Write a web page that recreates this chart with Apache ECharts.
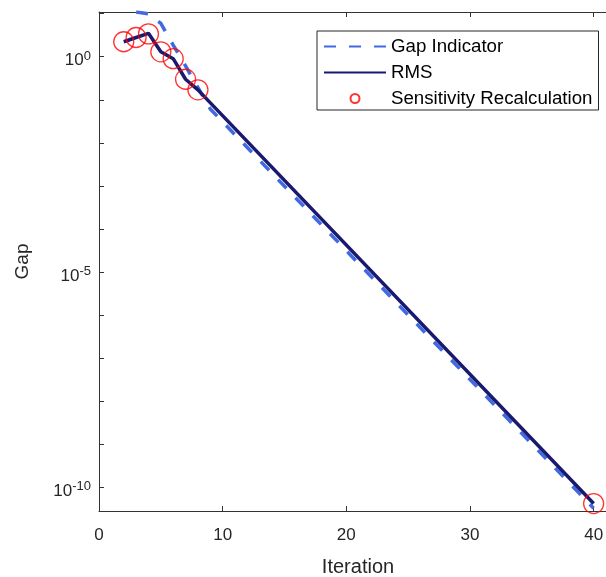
<!DOCTYPE html>
<html><head><meta charset="utf-8">
<script src="https://cdn.jsdelivr.net/npm/echarts@6/dist/echarts.min.js"></script>
<style>html,body{margin:0;padding:0;background:#fff}#c{width:606px;height:577px}</style>
</head><body><div id="c"></div>
<script>
// ---- data ----
const gapIterations = [3, 4, 5, 6, 7, 9, 40];
const gapValues = [11, 10, 5.96, 1.87, 0.61, 0.061, 3.2e-11];
const rmsIterations = [2, 3, 4, 5, 6, 7, 8, 40];
const rmsValues = [2.23, 2.8, 3.5, 1.3, 0.9, 0.30, 0.17, 4.1e-11];
const recalcIterations = [2, 3, 4, 5, 6, 7, 8, 40];
const recalcValues = [2.23, 2.8, 3.4, 1.3, 0.9, 0.30, 0.17, 4.1e-11];
const seriesNames = ['Gap Indicator', 'RMS', 'Sensitivity Recalculation'];
const xTicks = [0, 10, 20, 30, 40];
const xRange = [0, 41];
const yTickExponents = [-10, -9, -8, -7, -6, -5, -4, -3, -2, -1, 0, 1];
const yLabelExponents = [-10, -5, 0];
const yRangeExponents = [-10.56, 1.04];
const xName = 'Iteration';
const yName = 'Gap';

// ---- build chart ----
const FONT = 'Liberation Sans, Arial, Helvetica, sans-serif';
const TXT = '#262626';
const zip = (a, b) => a.map((v, i) => [v, b[i]]);
const pow10 = e => Math.pow(10, e);

const chart = echarts.init(document.getElementById('c'), null, {renderer: 'canvas'});
const axisLine = {show: true, lineStyle: {color: '#333', width: 1}};
const option = {
  backgroundColor: '#fff',
  animation: false,
  grid: {left: 99, top: 12, right: 0, bottom: 66, containLabel: false, outerBoundsMode: 'none'},
  xAxis: [{
    type: 'value', min: xRange[0], max: xRange[1], interval: 10,
    name: xName, nameLocation: 'middle', nameGap: 46,
    nameTextStyle: {fontSize: 20, color: TXT, fontFamily: FONT, padding: [0, 0, 0, 11]},
    axisLine: axisLine, splitLine: {show: false},
    axisTick: {show: true, inside: true, length: 5, lineStyle: {color: '#333'}, customValues: xTicks},
    axisLabel: {fontSize: 17, color: TXT, fontFamily: FONT, margin: 16, customValues: xTicks}
  }, {
    type: 'value', position: 'top', min: xRange[0], max: xRange[1], interval: 10,
    axisLine: axisLine, splitLine: {show: false},
    axisTick: {show: true, inside: true, length: 5, lineStyle: {color: '#333'}, customValues: xTicks},
    axisLabel: {show: false}
  }],
  yAxis: [{
    type: 'log', logBase: 10, min: pow10(yRangeExponents[0]), max: pow10(yRangeExponents[1]),
    name: yName, nameLocation: 'middle', nameGap: 67, nameRotate: 90,
    nameTextStyle: {fontSize: 19, color: TXT, fontFamily: FONT},
    axisLine: axisLine, splitLine: {show: false}, minorTick: {show: false},
    axisTick: {show: true, inside: true, length: 5, lineStyle: {color: '#333'},
               customValues: yTickExponents.map(pow10)},
    axisLabel: {
      margin: 8, color: TXT, fontFamily: FONT,
      customValues: yLabelExponents.map(pow10),
      formatter: v => '{b|10}{s|' + Math.round(Math.log10(v)) + '}',
      rich: {
        b: {fontSize: 17, color: TXT, fontFamily: FONT, padding: [8, 0, 0, 0], lineHeight: 18},
        s: {fontSize: 13, color: TXT, fontFamily: FONT, verticalAlign: 'top', padding: [2, 0, 0, 0], lineHeight: 13}
      }
    }
  }],
  legend: {
    orient: 'vertical', left: 317, top: 31,
    padding: [6, 6, 2, 6], itemGap: 7, itemWidth: 62, itemHeight: 9, itemTextGap: 5,
    backgroundColor: '#fff', borderColor: '#262626', borderWidth: 1, borderRadius: 0,
    textStyle: {fontSize: 18.7, color: '#000', fontFamily: FONT},
    data: [
      {name: seriesNames[0], itemStyle: {opacity: 0}},
      {name: seriesNames[1], itemStyle: {opacity: 0}},
      {name: seriesNames[2]}
    ]
  },
  series: [{
    name: seriesNames[0], type: 'line', data: zip(gapIterations, gapValues),
    symbol: 'none', z: 2, clip: true,
    lineStyle: {color: '#4169E1', width: 3.5, type: [12, 13]},
    itemStyle: {color: '#4169E1'}
  }, {
    name: seriesNames[1], type: 'line', data: zip(rmsIterations, rmsValues),
    symbol: 'none', z: 3, clip: true,
    lineStyle: {color: '#191970', width: 3.5},
    itemStyle: {color: '#191970'}
  }, {
    name: seriesNames[2], type: 'scatter', data: zip(recalcIterations, recalcValues),
    symbol: 'circle', symbolSize: 20, z: 4, clip: false,
    itemStyle: {color: 'rgba(0,0,0,0)', borderColor: '#ff0000', borderWidth: 1.3}
  }]
};
chart.setOption(option);
</script>
</body></html>
